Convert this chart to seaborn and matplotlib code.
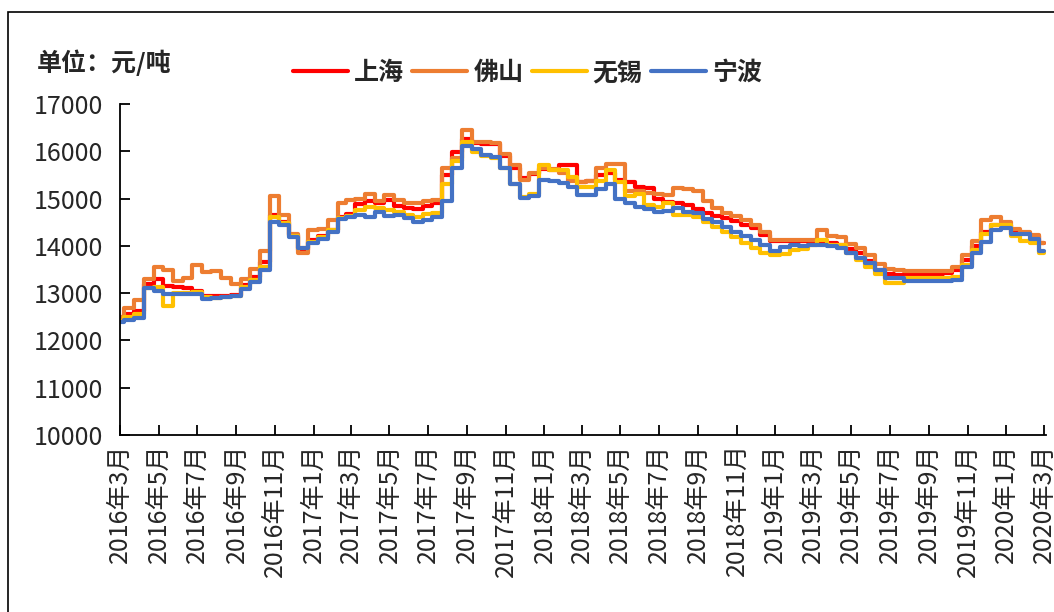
import numpy as np
import pandas as pd
import matplotlib
matplotlib.use("Agg")
import matplotlib.pyplot as plt
import matplotlib.dates as mdates
from matplotlib.patches import Rectangle
import seaborn as sns

# ---- data (semi-monthly readings, 2016-03 .. 2020-03) ----
dates = pd.date_range("2016-03-01", periods=97, freq="SMS")

shanghai = [12430, 12550, 12620, 13200, 13300, 13150, 13120, 13100, 13050, 12950,
            12950, 12930, 12960, 13180, 13350, 13650, 14650, 14500, 14220, 13920,
            14120, 14200, 14330, 14600, 14680, 14880, 14950, 14900, 14960, 14850,
            14800, 14780, 14850, 14900, 15500, 15980, 16250, 16180, 16150, 16150,
            15900, 15650, 15430, 15530, 15620, 15600, 15700, 15700, 15360, 15370,
            15500, 15550, 15400, 15350, 15250, 15220, 15000, 14930, 14900, 14870,
            14780, 14700, 14630, 14580, 14530, 14440, 14370, 14230, 14100, 14100,
            14100, 14100, 14090, 14080, 14050, 14020, 13930, 13850, 13680, 13500,
            13400, 13390, 13400, 13400, 13400, 13400, 13420, 13500, 13700, 14000,
            14300, 14450, 14450, 14300, 14280, 14200, 14050]

foshan = [12500, 12680, 12850, 13300, 13560, 13500, 13260, 13330, 13600, 13440,
          13470, 13320, 13200, 13300, 13510, 13900, 15050, 14650, 14250, 13850,
          14340, 14360, 14550, 14900, 14970, 15000, 15100, 14950, 15080, 14970,
          14900, 14900, 14940, 14970, 15650, 15850, 16450, 16200, 16200, 16180,
          15950, 15700, 15400, 15550, 15650, 15630, 15550, 15380, 15360, 15380,
          15650, 15740, 15740, 15150, 15150, 15110, 15100, 15080, 15220, 15200,
          15150, 14950, 14800, 14700, 14640, 14550, 14440, 14300, 14130, 14130,
          14130, 14130, 14130, 14330, 14200, 14180, 14030, 13950, 13800, 13620,
          13520, 13490, 13460, 13460, 13460, 13460, 13470, 13560, 13800, 14100,
          14550, 14620, 14500, 14360, 14300, 14220, 14060]

wuxi = [12420, 12500, 12560, 13100, 13120, 12720, 13000, 13000, 13020, 12920,
        12900, 12920, 12950, 13120, 13280, 13560, 14600, 14480, 14200, 13950,
        14080, 14180, 14330, 14580, 14640, 14750, 14820, 14800, 14760, 14720,
        14650, 14620, 14680, 14700, 15300, 15800, 16200, 15980, 15900, 15850,
        15650, 15300, 15040, 15100, 15700, 15600, 15600, 15450, 15250, 15250,
        15380, 15600, 15350, 15050, 15100, 14870, 14830, 14900, 14650, 14650,
        14600, 14500, 14400, 14290, 14180, 14060, 13950, 13840, 13810, 13820,
        13920, 13940, 14020, 14120, 14020, 14010, 13850, 13700, 13550, 13400,
        13220, 13220, 13310, 13320, 13320, 13320, 13320, 13350, 13600, 13910,
        14260, 14440, 14440, 14200, 14100, 14060, 13850]

ningbo = [12380, 12430, 12480, 13100, 13050, 12980, 12980, 12980, 12990, 12880,
          12900, 12920, 12930, 13080, 13230, 13500, 14500, 14450, 14180, 13950,
          14050, 14150, 14300, 14560, 14620, 14650, 14600, 14720, 14630, 14650,
          14580, 14500, 14550, 14600, 14950, 15650, 16120, 16050, 15920, 15870,
          15650, 15300, 15010, 15050, 15400, 15380, 15320, 15250, 15080, 15080,
          15200, 15300, 15000, 14900, 14820, 14790, 14720, 14730, 14800, 14720,
          14700, 14570, 14500, 14400, 14290, 14200, 14120, 14020, 13900, 13980,
          14020, 14000, 14020, 14020, 14000, 13950, 13850, 13740, 13630, 13480,
          13330, 13320, 13250, 13250, 13250, 13250, 13250, 13280, 13550, 13850,
          14080, 14330, 14380, 14260, 14250, 14150, 13900]

cities = ["上海", "佛山", "无锡", "宁波"]
colors = ["#FF0000", "#ED7D31", "#FFC000", "#4472C4"]
tick_dates = pd.date_range("2016-03-01", "2020-03-01", freq="2MS")
tick_labels = [f"{d.year}年{d.month}月" for d in tick_dates]
unit_text = "单位：元/吨"

df = pd.concat([
    pd.DataFrame({"date": dates, "price": vals, "city": c})
    for c, vals in zip(cities, [shanghai, foshan, wuxi, ningbo])
])

sns.set_style("ticks")
plt.rcParams["font.family"] = ["Noto Sans CJK SC", "DejaVu Sans"]

fig = plt.figure(figsize=(10.54, 6.12), dpi=100)
ax = fig.add_axes([120 / 1054, 1 - 435 / 612, (1046 - 120) / 1054, (435 - 104) / 612])

sns.lineplot(data=df, x="date", y="price", hue="city", hue_order=cities,
             palette=colors, linewidth=3.0, ax=ax, legend=True,
             drawstyle="steps-mid")
handles, labels = ax.get_legend_handles_labels()
ax.get_legend().remove()

ax.set_ylim(10000, 17000)
ax.set_yticks(range(10000, 17001, 1000))
ax.set_xlim(pd.Timestamp("2016-03-01"), pd.Timestamp("2020-03-04"))
ax.set_xticks(tick_dates)
ax.set_xticklabels(tick_labels, rotation=90, fontsize=18)
ax.tick_params(axis="y", labelsize=18, pad=12)
ax.tick_params(axis="x", pad=6)
ax.tick_params(direction="in", length=7, width=1.3, color="black")
ax.set_xlabel("")
ax.set_ylabel("")
for s in ["top", "right"]:
    ax.spines[s].set_visible(False)
for s in ["left", "bottom"]:
    ax.spines[s].set_linewidth(1.3)
    ax.spines[s].set_color("black")

fig.legend(handles, labels, loc="center left", bbox_to_anchor=(293 / 1054, 1 - 73 / 612),
           ncol=4, frameon=False, handlelength=2.2, handletextpad=0.25,
           columnspacing=0.32, borderpad=0, borderaxespad=0,
           prop={"size": 18, "weight": "bold"})

fig.text(37 / 1054, 1 - 63 / 612, unit_text, fontsize=18, fontweight="bold",
         va="center", ha="left")

fig.patches.append(Rectangle((8 / 1054, -0.2), 1.2, 1.2 - 12 / 612,
                             transform=fig.transFigure, fill=False,
                             edgecolor="black", linewidth=1.2))

fig.savefig("out.png", dpi=100)
